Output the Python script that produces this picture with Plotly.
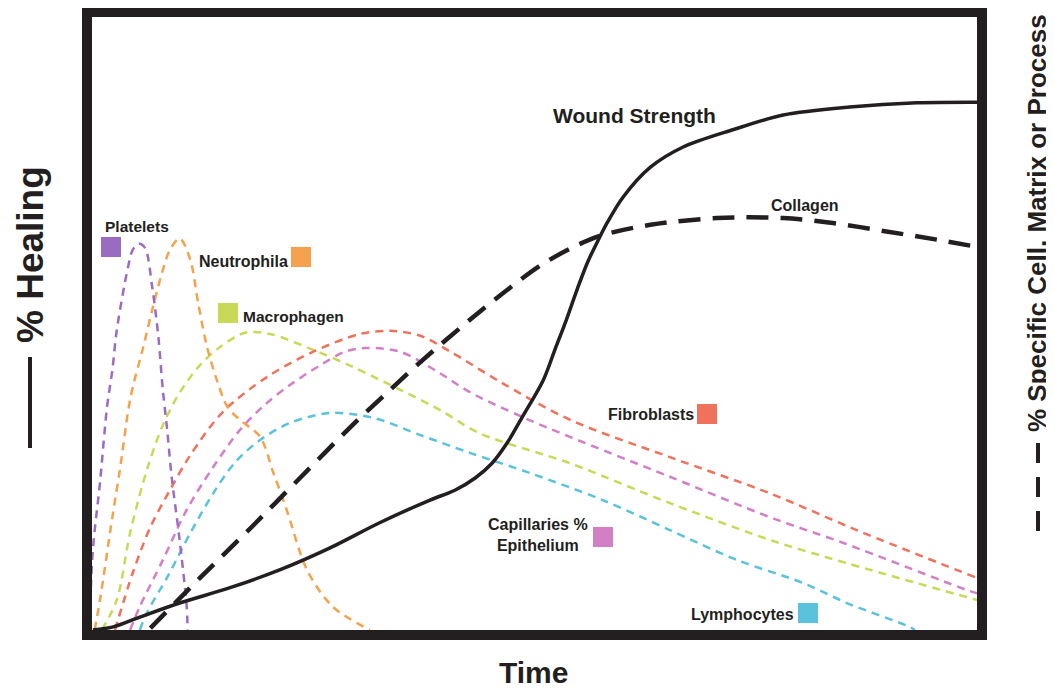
import plotly.graph_objects as go

# ---- data (Time 0-100, % 0-100) ----
wound_x = [0.1, 2.4, 5.4, 9.9, 15.6, 21.2, 26.9, 32.5, 38.2, 41.0, 43.3, 45.2, 46.9, 48.6, 51.0, 52.3, 53.6, 54.8, 56.0, 57.1, 58.2, 60.0, 63.1, 66.8, 72.4, 78.1, 85.6, 93.2, 100]
wound_y = [0, 0.5, 2.1, 4.4, 6.9, 9.8, 13.4, 17.5, 21.2, 22.8, 24.8, 27.2, 30.5, 34.7, 40.8, 45.7, 50.6, 55.5, 60.0, 63.3, 66.4, 70.6, 75.5, 78.8, 81.6, 84.0, 85.3, 86.0, 86.1]

collagen_x = [6.6, 12.2, 17.9, 23.5, 29.2, 33.7, 37.1, 42.7, 47.2, 50.6, 54.0, 57.4, 63.1, 70.6, 78.1, 83.7, 89.4, 96.2, 100]
collagen_y = [0.3, 8.5, 16.6, 24.8, 33.1, 39.2, 43.7, 50.6, 55.8, 59.4, 62.2, 64.3, 66.1, 67.2, 67.2, 66.4, 65.1, 63.5, 62.5]

platelets_x = [-0.3, 0.1, 0.9, 1.7, 2.3, 2.8, 4.0, 4.6, 5.3, 6.0, 6.8, 7.5, 8.0, 8.5, 9.0, 9.9, 10.7, 10.8]
platelets_y = [0, 13.1, 24.0, 36.4, 42.4, 48.9, 58.7, 62.0, 63.0, 62.3, 56.0, 47.8, 39.2, 32.6, 25.0, 14.7, 3.8, 0]

neutro_x = [0.3, 0.9, 2.3, 3.2, 4.1, 4.6, 5.8, 6.8, 7.9, 8.8, 9.9, 11.1, 12.0, 13.0, 14.1, 15.3, 16.7, 19.0, 20.5, 22.0, 24.3, 27.2, 31.4]
neutro_y = [0, 4.9, 18.4, 26.6, 35.9, 39.6, 46.2, 52.2, 58.2, 62.0, 63.9, 60.4, 53.3, 46.2, 40.8, 36.4, 34.3, 31.5, 25.6, 19.6, 9.8, 3.8, 0]

macro_x = [1.1, 2.8, 4.3, 6.2, 8.0, 9.9, 12.2, 14.5, 17.3, 20.1, 25.0, 29.5, 34.8, 39.3, 43.8, 54.0, 65.3, 76.6, 85.3, 100]
macro_y = [0, 4.9, 15.8, 26.1, 33.4, 38.7, 43.2, 46.2, 48.5, 48.3, 45.7, 42.9, 39.2, 35.9, 32.1, 27.2, 20.7, 14.7, 10.9, 4.9]

fibro_x = [2.6, 4.6, 6.6, 8.8, 11.1, 14.8, 19.8, 25.0, 30.3, 33.7, 37.1, 40.5, 46.1, 54.0, 65.3, 76.6, 86.4, 100]
fibro_y = [0, 9.3, 16.8, 22.8, 28.5, 35.6, 41.3, 45.4, 48.3, 48.8, 48.0, 45.4, 40.5, 34.3, 28.2, 22.3, 16.3, 8.5]

capil_x = [4.3, 5.4, 8.0, 10.7, 13.7, 16.7, 19.5, 22.4, 25.8, 28.6, 30.8, 34.8, 39.3, 42.7, 48.7, 54.0, 65.3, 76.6, 84.9, 98.9, 100]
capil_y = [0, 3.8, 11.4, 19.6, 26.6, 32.6, 36.7, 40.0, 43.2, 45.4, 46.0, 45.4, 41.9, 38.8, 34.7, 31.5, 25.0, 18.4, 14.2, 6.5, 6.0]

lympho_x = [5.4, 6.2, 8.5, 11.1, 13.7, 16.2, 19.0, 22.4, 26.9, 31.8, 37.1, 42.7, 49.5, 57.7, 65.3, 72.9, 80.3, 85.3, 92.4, 93.0]
lympho_y = [0, 2.8, 8.6, 15.8, 22.3, 27.4, 31.0, 33.8, 35.4, 34.6, 31.8, 28.9, 25.6, 21.2, 16.3, 11.4, 7.7, 4.4, 0.5, 0]

# ---- styling ----
INK = "#231f20"
FONT = "Liberation Sans, Arial, sans-serif"
C_PLT = "#9a6cc0"
C_NEU = "#f5a24e"
C_MAC = "#c9d957"
C_FIB = "#f0725c"
C_CAP = "#d27fc6"
C_LYM = "#5bc2de"

PAGE_W, PAGE_H = 1054, 691
OFF = 8                       # default body margin of the html page
L, R, T, B = 92, 977, 17, 630  # inner plot box in page pixels


def px(x, y):
    return (x - L) / (R - L), (B - y) / (B - T)


fig = go.Figure()

colored = [
    (lympho_x, lympho_y, C_LYM, "Lymphocytes"),
    (capil_x, capil_y, C_CAP, "Capillaries & Epithelium"),
    (macro_x, macro_y, C_MAC, "Macrophagen"),
    (fibro_x, fibro_y, C_FIB, "Fibroblasts"),
    (neutro_x, neutro_y, C_NEU, "Neutrophila"),
    (platelets_x, platelets_y, C_PLT, "Platelets"),
]
for xs, ys, col, name in colored:
    fig.add_trace(go.Scatter(x=xs, y=ys, mode="lines", name=name,
                             line=dict(color=col, width=2.5, dash="8px,6px", shape="spline", smoothing=0.9)))

fig.add_trace(go.Scatter(x=collagen_x, y=collagen_y, mode="lines", name="Collagen",
                         line=dict(color=INK, width=4.5, dash="22px,12px", shape="spline", smoothing=0.9)))
fig.add_trace(go.Scatter(x=wound_x, y=wound_y, mode="lines", name="Wound Strength",
                         line=dict(color=INK, width=3.5, shape="spline", smoothing=0.9)))

shapes = []
# frame
bx, by = 5 / (R - L), 5 / (B - T)
shapes.append(dict(type="rect", xref="paper", yref="paper", x0=-bx, x1=1 + bx, y0=-by, y1=1 + by,
                   line=dict(color=INK, width=10), layer="above"))

# legend squares
squares = [(111, 247, C_PLT), (301, 257, C_NEU), (228, 313, C_MAC),
           (707, 414, C_FIB), (603, 537, C_CAP), (808, 613, C_LYM)]
for cx, cy, col in squares:
    x0, y0 = px(cx - 10, cy + 10)
    x1, y1 = px(cx + 10, cy - 10)
    shapes.append(dict(type="rect", xref="paper", yref="paper", x0=x0, x1=x1, y0=y0, y1=y1,
                       fillcolor=col, line=dict(width=0)))

# axis title line markers
a0, a1 = px(30, 357)
_, a2 = px(30, 448)
shapes.append(dict(type="line", xref="paper", yref="paper", x0=a0, x1=a0, y0=a1, y1=a2,
                   line=dict(color=INK, width=4)))
for y_top, y_bot in [(443, 463), (477, 497), (511, 531)]:
    d0, d1 = px(1038, y_top)
    _, d2 = px(1038, y_bot)
    shapes.append(dict(type="line", xref="paper", yref="paper", x0=d0, x1=d0, y0=d1, y1=d2,
                       line=dict(color=INK, width=4)))

annotations = []


def label(text, x, y, size, xanchor="left", angle=0, align="left"):
    xx, yy = px(x, y)
    annotations.append(dict(text="<b>%s</b>" % text, x=xx, y=yy, xref="paper", yref="paper",
                            xanchor=xanchor, yanchor="middle", showarrow=False, textangle=angle,
                            align=align, font=dict(family=FONT, size=size, color=INK)))


label("Platelets", 103, 227, 15.5)
label("Neutrophila", 197, 261, 16)
label("Macrophagen", 241, 316, 15.5)
label("Wound Strength", 551, 115, 21)
label("Collagen", 769, 205, 16)
label("Fibroblasts", 606, 414, 16)
label("Capillaries %<br>Epithelium", 538, 535, 16, xanchor="center", align="center")
label("Lymphocytes", 689, 614, 16)
label("Time", 533, 672, 30, xanchor="center")
label("% Healing", 30, 255, 37, xanchor="center", angle=-90)
label("% Specific Cell, Matrix or Process", 1037, 223, 26, xanchor="center", angle=-90)

fig.update_layout(
    width=PAGE_W - OFF, height=PAGE_H - OFF,
    margin=dict(l=L - OFF, r=PAGE_W - R, t=T - OFF, b=PAGE_H - B, pad=0),
    paper_bgcolor="white", plot_bgcolor="white",
    showlegend=False,
    xaxis=dict(range=[0, 100], visible=False, fixedrange=True),
    yaxis=dict(range=[0, 100], visible=False, fixedrange=True),
    shapes=shapes, annotations=annotations,
)

fig.write_html("out.html")
